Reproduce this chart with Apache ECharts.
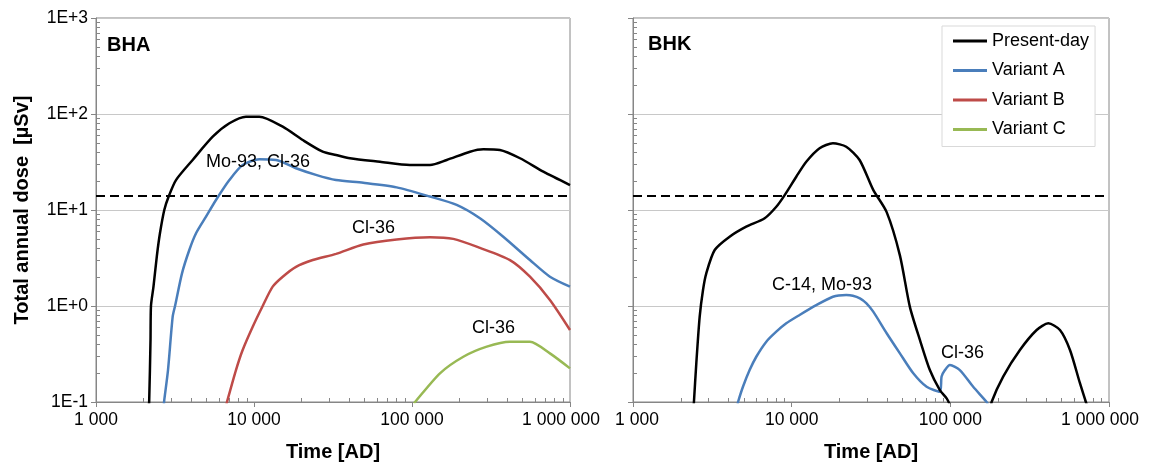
<!DOCTYPE html>
<html>
<head>
<meta charset="utf-8">
<script src="https://cdn.jsdelivr.net/npm/echarts@6/dist/echarts.min.js"></script>
<style>
  html, body { margin: 0; padding: 0; background: #fff; }
  #chart { width: 1149px; height: 468px; }
</style>
</head>
<body>
<div id="chart"></div>
<script>
// Axis tick labels
const timeTicks = ['1 000', '10 000', '100 000', '1 000 000'];
const doseTicks = ['1E-1', '1E+0', '1E+1', '1E+2', '1E+3'];

// Dose constraint level [µSv]
const limitDose = 14;

// BHA: [time AD, annual dose µSv]
const bhaPresent = [[2150,0.09],[2170,0.1],[2213,0.44],[2228,1.0],[2312,1.6],[2432,3.4],[2541,5.75],[2705,10],[2883,13.8],[3208,20.5],[4090,33.2],[5479,58],[6985,80],[8895,93.8],[10810,93.8],[15200,73.8],[20340,53.6],[27210,40.5],[33040,37.4],[40520,34.6],[62700,31.8],[97000,29.4],[130000,29.4],[165900,33.2],[232900,40.5],[282700,42.9],[360200,42.2],[482700,34.6],[678000,25.1],[1000000,18.2]];
const bhaVariantA = [[2690,0.095],[2705,0.105],[2856,0.215],[3057,0.775],[3177,1.03],[3502,2.19],[3896,3.83],[4297,5.72],[4970,8.52],[5746,12.7],[6985,20.5],[8477,29.4],[10810,33.7],[13780,33.2],[18450,27.2],[24660,23.2],[33040,20.5],[49160,19.2],[80000,17.2],[130000,13.8],[191700,11.3],[269200,8.2],[378000,5.27],[558000,3.01],[746500,2.02],[1000000,1.59]];
const bhaVariantB = [[6700,0.095],[6745,0.1],[7690,0.215],[8477,0.348],[9815,0.608],[11350,1.0],[13130,1.59],[15200,2.02],[18450,2.56],[23550,3.01],[33040,3.49],[49160,4.37],[80000,4.93],[130000,5.2],[182500,5.0],[269200,4.03],[416900,3.01],[558000,2.02],[746500,1.155],[1000000,0.562]];
const bhaVariantC = [[103000,0.097],[104500,0.1],[150300,0.199],[211300,0.296],[297300,0.377],[416900,0.425],[558000,0.425],[746500,0.321],[1000000,0.224]];

// BHK: [time AD, annual dose µSv]
const bhkPresent = [[2410,0.09],[2421,0.1],[2506,0.253],[2632,0.775],[2762,1.47],[2897,2.19],[3273,3.83],[4064,5.27],[5172,6.7],[6761,8.2],[8000,10.8],[9036,14.3],[10690,22.2],[12360,31.8],[15000,44],[18200,49.5],[22080,45.6],[26800,33.2],[32660,16.2],[39690,9.5],[48100,3.37],[55600,0.98],[64300,0.443],[74300,0.215],[85900,0.133],[94800,0.109],[100500,0.09],[140000,null],[181000,0.09],[182000,0.1],[215300,0.184],[274500,0.348],[350000,0.562],[414400,0.66],[490800,0.562],[567600,0.348],[656000,0.157],[730000,0.09]];
const bhkVariantA = [[4570,0.095],[4592,0.1],[4932,0.144],[5433,0.215],[5984,0.296],[6922,0.425],[8000,0.54],[9247,0.66],[11220,0.806],[14290,1.02],[18200,1.25],[22080,1.30],[24300,1.28],[26920,1.2],[29500,1.07],[32660,0.873],[39690,0.52],[48100,0.321],[58400,0.199],[70900,0.144],[85900,0.128],[88100,0.184],[92500,0.215],[99400,0.243],[114800,0.215],[139300,0.144],[169400,0.1],[172000,0.095]];

const FONT = 'Liberation Sans, Arial, sans-serif';
const AXIS_GREY = '#868686';
const COLORS = {
  'Present-day': '#000000',
  'Variant A': '#4a7ebb',
  'Variant B': '#be4b48',
  'Variant C': '#98b954'
};

// minor tick positions at 2..9 of every decade
function minorValues(lo, hi) {
  const out = [];
  for (let d = lo; d < hi * 0.999; d *= 10) {
    for (let m = 2; m <= 9; m++) out.push(+(d * m).toPrecision(6));
  }
  return out;
}
const minorTime = minorValues(1000, 1e6);
const minorDose = minorValues(0.1, 1000);

const decade = v => Math.round(Math.log10(v));
// end labels are nudged inward so neighbouring panels do not collide
function timeLabelFor(panel) {
  return v => {
    const k = decade(v) - 3;
    const t = timeTicks[k] || '';
    if (k === timeTicks.length - 1) return '{end|' + t + '}';
    if (k === 0 && panel === 1) return '{start|' + t + '}';
    return t;
  };
}
const doseLabel = v => doseTicks[decade(v) + 1] || '';

const tickText = { color: '#000', fontSize: 17.5, fontFamily: FONT };

function mainX(i) {
  return {
    type: 'log', logBase: 10, gridIndex: i, min: 1000, max: 1e6, position: 'bottom',
    axisLine: { lineStyle: { color: AXIS_GREY, width: 1 } },
    axisTick: { length: 5, lineStyle: { color: AXIS_GREY } },
    axisLabel: Object.assign({}, tickText, {
      margin: 9, formatter: timeLabelFor(i),
      rich: {
        end: Object.assign({}, tickText, { padding: [0, 18, 0, 0] }),
        start: Object.assign({}, tickText, { padding: [0, 0, 0, 8] })
      }
    }),
    splitLine: { show: false },
    name: 'Time [AD]', nameLocation: 'middle', nameGap: 40,
    nameTextStyle: { fontWeight: 'bold', fontSize: 20, color: '#000', fontFamily: FONT }
  };
}
function minorX(i) {
  return {
    type: 'log', logBase: 10, gridIndex: i, min: 1000, max: 1e6, position: 'bottom',
    axisLine: { show: false },
    axisTick: { show: true, inside: true, length: 4, customValues: minorTime, lineStyle: { color: AXIS_GREY } },
    axisLabel: { show: false },
    splitLine: { show: false }
  };
}
function mainY(i) {
  const ax = {
    type: 'log', logBase: 10, gridIndex: i, min: 0.1, max: 1000, position: 'left',
    axisLine: { show: true, lineStyle: { color: AXIS_GREY, width: 1 } },
    axisTick: { show: true, length: 5, lineStyle: { color: AXIS_GREY } },
    axisLabel: Object.assign({}, tickText, { show: i === 0, margin: 8, formatter: doseLabel }),
    splitLine: { show: true, lineStyle: { color: '#c8c8c8', width: 1 } }
  };
  if (i === 0) {
    ax.name = 'Total annual dose  [µSv]';
    ax.nameLocation = 'middle';
    ax.nameGap = 64;
    ax.nameTextStyle = { fontWeight: 'bold', fontSize: 20, color: '#000', fontFamily: FONT };
  }
  return ax;
}
function minorY(i) {
  return {
    type: 'log', logBase: 10, gridIndex: i, min: 0.1, max: 1000, position: 'left',
    axisLine: { show: false },
    axisTick: { show: true, inside: true, length: 4, customValues: minorDose, lineStyle: { color: AXIS_GREY } },
    axisLabel: { show: false },
    splitLine: { show: false }
  };
}

function curve(name, data, i) {
  return {
    name, type: 'line', data, xAxisIndex: i, yAxisIndex: i,
    symbol: 'none', showSymbol: false, smooth: 0.25,
    connectNulls: false, clip: true,
    lineStyle: { color: COLORS[name], width: 2.5 },
    itemStyle: { color: COLORS[name] },
    z: name === 'Present-day' ? 4 : 3
  };
}
function limitLine(i) {
  return {
    name: 'limit', type: 'line', xAxisIndex: i, yAxisIndex: i,
    data: [[1000, limitDose], [1e6, limitDose]],
    symbol: 'none', silent: true,
    lineStyle: { color: '#000', width: 2, type: [9, 5] }, z: 2
  };
}

function note(text, x, y, bold) {
  return {
    type: 'text', x, y, z: 10,
    style: {
      text, fill: '#000', align: 'left', verticalAlign: 'middle',
      font: (bold ? 'bold 20px ' : '18px ') + FONT
    }
  };
}

const chart = echarts.init(document.getElementById('chart'), null, { renderer: 'canvas' });
chart.setOption({
  animation: false,
  backgroundColor: '#fff',
  grid: [
    { left: 96, right: 579, top: 18, bottom: 66, show: true, borderColor: AXIS_GREY, borderWidth: 1, backgroundColor: 'transparent' },
    { left: 633, right: 40, top: 18, bottom: 66, show: true, borderColor: AXIS_GREY, borderWidth: 1, backgroundColor: 'transparent' }
  ],
  xAxis: [mainX(0), mainX(1), minorX(0), minorX(1)],
  yAxis: [mainY(0), mainY(1), minorY(0), minorY(1)],
  legend: {
    data: ['Present-day', 'Variant A', 'Variant B', 'Variant C'],
    orient: 'vertical', left: 942, top: 26,
    padding: [6, 6, 8, 11], itemGap: 11.5,
    itemWidth: 34, itemHeight: 3, icon: 'rect',
    textStyle: { fontSize: 18, color: '#000', fontFamily: FONT },
    borderColor: '#d9d9d9', borderWidth: 1, backgroundColor: '#fff',
    selectedMode: false
  },
  series: [
    limitLine(0), limitLine(1),
    curve('Present-day', bhaPresent, 0),
    curve('Variant A', bhaVariantA, 0),
    curve('Variant B', bhaVariantB, 0),
    curve('Variant C', bhaVariantC, 0),
    curve('Present-day', bhkPresent, 1),
    curve('Variant A', bhkVariantA, 1)
  ],
  graphic: [
    note('BHA', 107, 45, true),
    note('BHK', 648, 44, true),
    note('Mo-93, Cl-36', 206, 162),
    note('Cl-36', 352, 228),
    note('Cl-36', 472, 328),
    note('C-14, Mo-93', 772, 285),
    note('Cl-36', 941, 353)
  ]
});
</script>
</body>
</html>
